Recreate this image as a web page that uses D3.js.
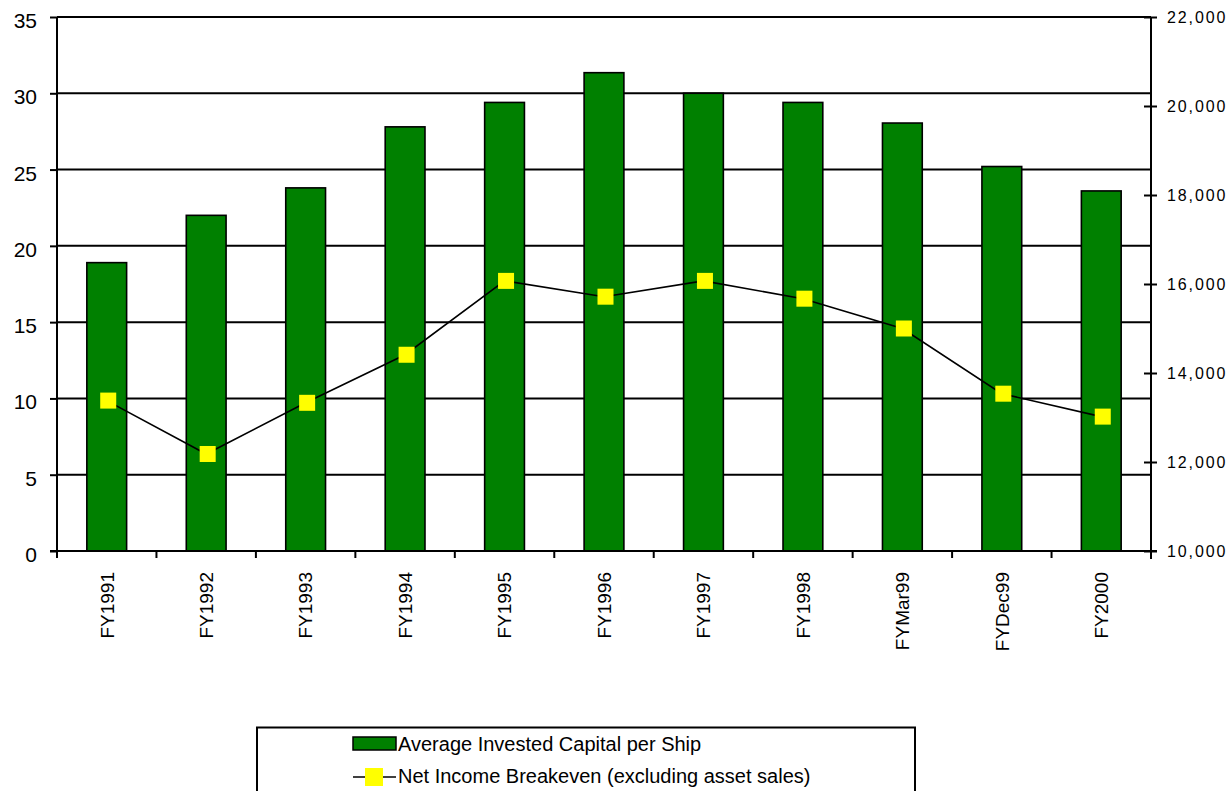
<!DOCTYPE html>
<html>
<head>
<meta charset="utf-8">
<script src="https://cdn.jsdelivr.net/npm/d3@7"></script>
<style>
  body { margin: 0; background: #fff; }
  text { font-family: Arial, "Liberation Sans", sans-serif; fill: #000; }
</style>
</head>
<body>
<svg id="chart" width="1230" height="791"></svg>
<script>
// Fiscal periods on the x axis
const categories = ["FY1991", "FY1992", "FY1993", "FY1994", "FY1995", "FY1996",
                    "FY1997", "FY1998", "FYMar99", "FYDec99", "FY2000"];
// Bars, left axis
const capitalPerShip = [18.9, 22.0, 23.8, 27.8, 29.4, 31.35, 30.0, 29.4, 28.05, 25.2, 23.6];
// Line, right axis
const breakeven = [13380, 12180, 13330, 14410, 16070, 15715, 16070, 15670, 15000, 13535, 13020];
const leftTicks = [0, 5, 10, 15, 20, 25, 30, 35];
const rightTicks = [10000, 12000, 14000, 16000, 18000, 20000, 22000];
const seriesNames = ["Average Invested Capital per Ship", "Net Income Breakeven (excluding asset sales)"];

const BAR_FILL = "#008000";
const MARKER_FILL = "#ffff00";

const svg = d3.select("#chart");
const plot = { left: 57, right: 1151, top: 17, bottom: 551 };

const x = d3.scaleBand()
  .domain(categories)
  .range([plot.left, plot.right])
  .paddingInner(0.6)
  .paddingOuter(0.3);
const yL = d3.scaleLinear().domain([0, 35]).range([plot.bottom, plot.top]);
const yR = d3.scaleLinear().domain([10000, 22000]).range([plot.bottom, plot.top]);
const center = c => x(c) + x.bandwidth() / 2;

// Horizontal gridlines on the left-axis ticks
svg.append("g")
  .selectAll("line")
  .data(leftTicks.filter(v => v > 0))
  .join("line")
  .attr("x1", plot.left).attr("x2", plot.right)
  .attr("y1", d => yL(d)).attr("y2", d => yL(d))
  .attr("stroke", "#000").attr("stroke-width", 2);

// Bars
svg.append("g")
  .selectAll("rect")
  .data(categories)
  .join("rect")
  .attr("x", d => x(d))
  .attr("width", x.bandwidth())
  .attr("y", (d, i) => yL(capitalPerShip[i]))
  .attr("height", (d, i) => yL(0) - yL(capitalPerShip[i]))
  .attr("fill", BAR_FILL)
  .attr("stroke", "#000")
  .attr("stroke-width", 1.6);

// Left axis
const leftAxis = svg.append("g")
  .attr("transform", `translate(${plot.left},0)`)
  .call(d3.axisLeft(yL).tickValues(leftTicks).tickSize(7).tickPadding(13).tickSizeOuter(0));
leftAxis.select(".domain").remove();
leftAxis.selectAll(".tick line").attr("stroke", "#000").attr("stroke-width", 2);
leftAxis.selectAll(".tick text")
  .attr("font-size", 21).attr("dy", "0.5em")
  .style("font-family", "Arial, 'Liberation Sans', sans-serif").attr("fill", "#000");
svg.append("line")
  .attr("x1", plot.left).attr("x2", plot.left)
  .attr("y1", plot.top).attr("y2", plot.bottom + 7)
  .attr("stroke", "#000").attr("stroke-width", 2);

// Right axis with crossing ticks
const rightAxis = svg.append("g")
  .attr("transform", `translate(${plot.right},0)`)
  .call(d3.axisRight(yR).tickValues(rightTicks).tickSize(6).tickPadding(10)
    .tickSizeOuter(0).tickFormat(d3.format(",")));
rightAxis.select(".domain").remove();
rightAxis.selectAll(".tick line").attr("x1", -7).attr("stroke", "#000").attr("stroke-width", 2);
rightAxis.selectAll(".tick text")
  .attr("font-size", 16).attr("letter-spacing", "1.9px")
  .style("font-family", "Arial, 'Liberation Sans', sans-serif").attr("fill", "#000");
svg.append("line")
  .attr("x1", plot.right).attr("x2", plot.right)
  .attr("y1", plot.top).attr("y2", plot.bottom + 8)
  .attr("stroke", "#000").attr("stroke-width", 2);

// Category axis: baseline, boundary ticks, rotated labels
svg.append("line")
  .attr("x1", plot.left - 7).attr("x2", plot.right + 6)
  .attr("y1", plot.bottom).attr("y2", plot.bottom)
  .attr("stroke", "#000").attr("stroke-width", 2);
const boundaries = d3.range(categories.length + 1).map(i => plot.left + i * x.step());
svg.append("g")
  .selectAll("line")
  .data(boundaries.slice(1, -1))
  .join("line")
  .attr("x1", d => d).attr("x2", d => d)
  .attr("y1", plot.bottom).attr("y2", plot.bottom + 7)
  .attr("stroke", "#000").attr("stroke-width", 2);
svg.append("g")
  .selectAll("text")
  .data(categories)
  .join("text")
  .attr("transform", d => `translate(${center(d)},${plot.bottom + 21}) rotate(-90)`)
  .attr("text-anchor", "end")
  .attr("dy", "0.36em")
  .attr("font-size", 19)
  .text(d => d);

// Breakeven line and square markers
const line = d3.line()
  .x((d, i) => center(categories[i]))
  .y(d => yR(d));
svg.append("path")
  .datum(breakeven)
  .attr("d", line)
  .attr("fill", "none")
  .attr("stroke", "#000")
  .attr("stroke-width", 1.6);
const MARK = 16;
svg.append("g")
  .selectAll("rect")
  .data(breakeven)
  .join("rect")
  .attr("x", (d, i) => center(categories[i]) - MARK / 2 + 1.5)
  .attr("y", d => yR(d) - MARK / 2)
  .attr("width", MARK).attr("height", MARK)
  .attr("fill", MARKER_FILL);

// Legend
const legend = svg.append("g");
legend.append("rect")
  .attr("x", 257).attr("y", 727.5)
  .attr("width", 658).attr("height", 80)
  .attr("fill", "#fff").attr("stroke", "#000").attr("stroke-width", 2);
legend.append("rect")
  .attr("x", 353).attr("y", 737).attr("width", 43).attr("height", 13)
  .attr("fill", BAR_FILL).attr("stroke", "#000").attr("stroke-width", 1.5);
legend.append("text")
  .attr("x", 398).attr("y", 744).attr("dy", "0.36em")
  .attr("font-size", 20).text(seriesNames[0]);
legend.append("line")
  .attr("x1", 353).attr("x2", 396).attr("y1", 777).attr("y2", 777)
  .attr("stroke", "#000").attr("stroke-width", 1.6);
legend.append("rect")
  .attr("x", 365).attr("y", 768).attr("width", 18).attr("height", 18)
  .attr("fill", MARKER_FILL);
legend.append("text")
  .attr("x", 398).attr("y", 776).attr("dy", "0.36em")
  .attr("font-size", 20).text(seriesNames[1]);
</script>
</body>
</html>
